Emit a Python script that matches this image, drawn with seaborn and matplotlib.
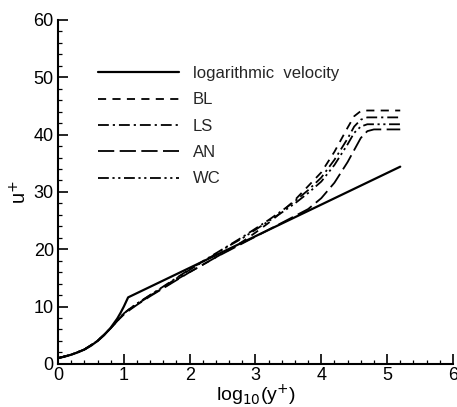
import numpy as np
import pandas as pd
import matplotlib
matplotlib.use("Agg")
import matplotlib.pyplot as plt
import seaborn as sns
from matplotlib.ticker import MultipleLocator

# ---- data ----
x_log = [0.0, 0.1, 0.2, 0.3, 0.4, 0.5, 0.6, 0.7, 0.8, 0.9, 0.95, 1.0, 1.065, 5.2]
u_log = [1.0, 1.26, 1.6, 2.0, 2.5, 3.16, 4.0, 5.0, 6.3, 7.9, 8.9, 10.0, 11.6, 34.4]

x_m = [0.0, 0.2, 0.4, 0.6, 0.8, 0.9, 1.0, 1.1, 1.2, 1.4, 1.6, 1.8, 2.0, 2.2, 2.4,
       2.6, 2.8, 3.0, 3.2, 3.4, 3.6, 3.8, 4.0, 4.2, 4.4, 4.5, 4.6, 4.7, 4.8, 5.0, 5.2]
u_BL = [1.0, 1.6, 2.5, 4.0, 6.2, 7.5, 8.7, 9.6, 10.4, 11.9, 13.3, 14.7, 16.0, 17.3, 18.6,
        19.9, 21.3, 22.9, 24.6, 26.5, 28.6, 31.0, 33.4, 37.0, 41.2, 43.2, 44.1, 44.2, 44.2, 44.2, 44.2]
u_LS = [1.0, 1.6, 2.5, 4.0, 6.2, 7.5, 8.8, 9.7, 10.5, 12.0, 13.5, 15.0, 16.5, 17.9, 19.3,
        20.7, 22.1, 23.6, 25.1, 26.7, 28.4, 30.3, 32.5, 35.6, 39.3, 41.4, 42.6, 43.0, 43.0, 43.0, 43.0]
u_AN = [1.0, 1.6, 2.5, 4.0, 6.2, 7.5, 8.6, 9.5, 10.3, 11.8, 13.2, 14.6, 16.0, 17.3, 18.6,
        19.8, 21.0, 22.2, 23.4, 24.6, 25.8, 27.0, 28.9, 31.6, 35.2, 37.3, 39.4, 40.6, 40.9, 40.9, 40.9]
u_WC = [1.0, 1.6, 2.5, 4.0, 6.2, 7.5, 8.8, 9.7, 10.5, 12.0, 13.4, 14.9, 16.4, 17.8, 19.2,
        20.6, 21.9, 23.4, 24.9, 26.4, 28.0, 29.8, 31.8, 34.7, 38.3, 40.3, 41.4, 41.8, 41.8, 41.8, 41.8]

names = ["logarithmic  velocity", "BL", "LS", "AN", "WC"]

rows = []
for xx, uu in zip(x_log, u_log):
    rows.append((xx, uu, names[0]))
for nm, arr in zip(names[1:], [u_BL, u_LS, u_AN, u_WC]):
    for xx, uu in zip(x_m, arr):
        rows.append((xx, uu, nm))
df = pd.DataFrame(rows, columns=["x", "u", "model"])

sns.set_theme(style="ticks")
plt.rcParams["font.family"] = ["Liberation Sans", "DejaVu Sans"]

fig = plt.figure(figsize=(4.57, 4.07), dpi=100)
ax = fig.add_axes([0.127, 0.106, 0.864, 0.845])

dashes = {
    names[0]: "",
    "BL": (4.5, 3.5),
    "LS": (6, 2.2, 1.2, 2.2),
    "AN": (9, 3),
    "WC": (6, 2, 1.2, 2, 1.2, 2),
}
widths = {names[0]: 1.6, "BL": 1.3, "LS": 1.3, "AN": 1.3, "WC": 1.3}

for nm in names:
    sub = df[df["model"] == nm]
    sns.lineplot(data=sub, x="x", y="u", ax=ax, color="black",
                 lw=widths[nm], label=nm, sort=False, estimator=None,
                 dashes=False)
    line = ax.lines[-1]
    if dashes[nm]:
        line.set_dashes(dashes[nm])

ax.set_xlim(0, 6)
ax.set_ylim(0, 60)
ax.xaxis.set_major_locator(MultipleLocator(1))
ax.xaxis.set_minor_locator(MultipleLocator(0.2))
ax.yaxis.set_major_locator(MultipleLocator(10))
ax.yaxis.set_minor_locator(MultipleLocator(2))
ax.tick_params(which="major", direction="in", length=7, width=1.2, labelsize=13,
               colors="black", pad=2)
ax.tick_params(axis="y", which="major", pad=3)
ax.tick_params(which="minor", direction="in", length=3, width=0.9, colors="black")
for s in ["top", "right"]:
    ax.spines[s].set_visible(False)
for s in ["left", "bottom"]:
    ax.spines[s].set_linewidth(1.5)
    ax.spines[s].set_color("black")

ax.set_xlabel(r"log$_{10}$(y$^{+}$)", fontsize=14, labelpad=-1, color="black")
ax.set_ylabel(r"u$^{+}$", fontsize=14.5, labelpad=2, color="black")

leg = ax.legend(loc="upper left", bbox_to_anchor=(0.1, 0.866), frameon=False,
                fontsize=12, handlelength=4.9, handletextpad=0.8, labelspacing=0.68,
                borderaxespad=0, borderpad=0)

fig.savefig("out.png", dpi=100)
